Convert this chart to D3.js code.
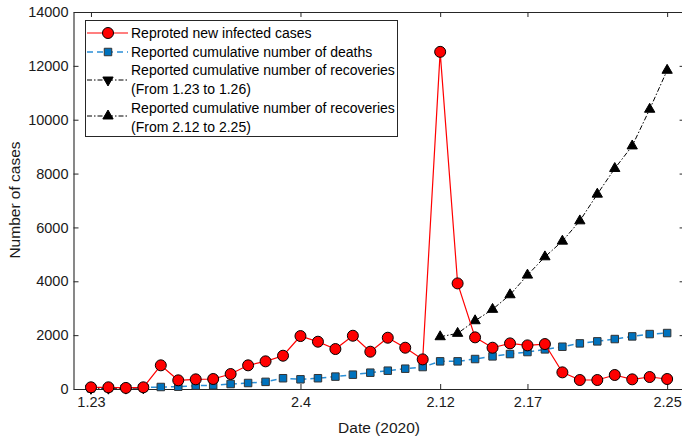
<!DOCTYPE html>
<html>
<head>
<meta charset="utf-8">
<script src="https://cdn.jsdelivr.net/npm/d3@7"></script>
<style>
  body { margin: 0; background: #fff; }
  svg { font-family: "Liberation Sans", Arial, Helvetica, sans-serif; }
</style>
</head>
<body>
<script>
const dates = ['1.23', '1.24', '1.25', '1.26', '1.27', '1.28', '1.29', '1.30', '1.31',
  '2.1', '2.2', '2.3', '2.4', '2.5', '2.6', '2.7', '2.8', '2.9', '2.10', '2.11', '2.12',
  '2.13', '2.14', '2.15', '2.16', '2.17', '2.18', '2.19', '2.20', '2.21', '2.22', '2.23',
  '2.24', '2.25'];

const tickDates = ['1.23', '2.4', '2.12', '2.17', '2.25'];
const yTicks = [0, 2000, 4000, 6000, 8000, 10000, 12000, 14000];

const newCases = [63, 63, 40, 63, 879, 322, 359, 371, 556, 879, 1027, 1236, 1966, 1756,
  1484, 1978, 1385, 1904, 1533, 1100, 12520, 3921, 1918, 1533, 1694, 1620, 1669, 618,
  334, 334, 520, 359, 445, 371];

const deaths = [24, 39, 40, 52, 74, 86, 124, 136, 185, 222, 265, 400, 360, 400, 460, 532,
  606, 680, 754, 816, 1027, 1027, 1113, 1212, 1298, 1373, 1472, 1570, 1694, 1769, 1855,
  1953, 2040, 2078];

const recoveriesEarlyDates = ['1.23', '1.24', '1.25', '1.26'];
const recoveriesEarly = [25, 30, 31, 40];

const recoveriesLateDates = ['2.12', '2.13', '2.14', '2.15', '2.16', '2.17', '2.18',
  '2.19', '2.20', '2.21', '2.22', '2.23', '2.24', '2.25'];
const recoveriesLate = [1940, 2066, 2534, 2957, 3499, 4229, 4908, 5490, 6244, 7235,
  8188, 9026, 10388, 11835];

const legendLabels = [
  ['Reproted new infected cases'],
  ['Reported cumulative number of deaths'],
  ['Reported cumulative number of recoveries', '(From 1.23 to 1.26)'],
  ['Reported cumulative number of recoveries', '(From 2.12 to 2.25)']
];

const width = 682;
const height = 440;
const axisColor = '#262626';
const blueFill = '#0072bd';
const blueLine = '#2b8fd6';

const svg = d3.select('body').append('svg')
  .attr('width', width)
  .attr('height', height);

const x = d3.scaleLinear().domain([-1, 34]).range([73.5, 684.6]);
const y = d3.scaleLinear().domain([0, 14000]).range([389, 12]);
const dayOf = d => dates.indexOf(d);

// axes box
const plot = svg.append('g');

const xAxis = d3.axisBottom(x)
  .tickValues(tickDates.map(dayOf))
  .tickFormat(d => dates[d])
  .tickSizeInner(-5).tickSizeOuter(0).tickPadding(8);
const xTop = d3.axisTop(x)
  .tickValues(tickDates.map(dayOf))
  .tickFormat('')
  .tickSizeInner(-5).tickSizeOuter(0);
const yAxis = d3.axisLeft(y)
  .tickValues(yTicks)
  .tickFormat(d3.format('d'))
  .tickSizeInner(-5).tickSizeOuter(0).tickPadding(5);
const yRight = d3.axisRight(y)
  .tickValues(yTicks)
  .tickFormat('')
  .tickSizeInner(-5).tickSizeOuter(0);

plot.append('g').attr('transform', `translate(0,${y(0)})`).call(xAxis);
plot.append('g').attr('transform', `translate(0,${y(14000)})`).call(xTop);
plot.append('g').attr('transform', `translate(${x(-1)},0)`).call(yAxis);
plot.append('g').attr('transform', `translate(${x(34)},0)`).call(yRight);

plot.selectAll('.domain').attr('stroke', axisColor).attr('stroke-width', 1.1);
plot.selectAll('.tick line').attr('stroke', axisColor);
plot.selectAll('.tick text').attr('fill', '#1a1a1a').attr('font-size', 14.5);

// axis labels
svg.append('text')
  .attr('x', 379).attr('y', 433)
  .attr('text-anchor', 'middle')
  .attr('font-size', 15.5).attr('fill', '#1a1a1a')
  .text('Date (2020)');

svg.append('text')
  .attr('transform', 'translate(20,200) rotate(-90)')
  .attr('text-anchor', 'middle')
  .attr('font-size', 15.5).attr('fill', '#1a1a1a')
  .text('Number of cases');

// series
const line = d3.line().x(d => x(d.day)).y(d => y(d.value));

const series = [
  {
    data: dates.map((d, i) => ({ day: i, value: deaths[i] })),
    stroke: blueLine, dash: '6,4', width: 1.5, symbol: d3.symbolSquare, size: 56,
    fill: blueFill, mstroke: '#333'
  },
  {
    data: recoveriesEarlyDates.map((d, i) => ({ day: dayOf(d), value: recoveriesEarly[i] })),
    stroke: '#000', dash: '5,2,1.5,2', width: 1, symbol: d3.symbolTriangle, size: 46,
    fill: '#000', mstroke: '#000', rotate: 180
  },
  {
    data: recoveriesLateDates.map((d, i) => ({ day: dayOf(d), value: recoveriesLate[i] })),
    stroke: '#000', dash: '5,2,1.5,2', width: 1, symbol: d3.symbolTriangle, size: 46,
    fill: '#000', mstroke: '#000', rotate: 0
  },
  {
    data: dates.map((d, i) => ({ day: i, value: newCases[i] })),
    stroke: '#ff0000', dash: null, width: 1.2, symbol: d3.symbolCircle, size: 95,
    fill: '#ff0000', mstroke: '#000'
  }
];

series.forEach(s => {
  const g = svg.append('g');
  g.append('path')
    .datum(s.data)
    .attr('fill', 'none')
    .attr('stroke', s.stroke)
    .attr('stroke-width', s.width)
    .attr('stroke-dasharray', s.dash)
    .attr('d', line);
  g.selectAll('path.marker')
    .data(s.data)
    .enter()
    .append('path')
    .attr('class', 'marker')
    .attr('d', d3.symbol().type(s.symbol).size(s.size))
    .attr('transform', d => `translate(${x(d.day)},${y(d.value)}) rotate(${s.rotate || 0})`)
    .attr('fill', s.fill)
    .attr('stroke', s.mstroke)
    .attr('stroke-width', 1);
});

// legend
const legend = svg.append('g');
legend.append('rect')
  .attr('x', 85.5).attr('y', 20.5)
  .attr('width', 312).attr('height', 116)
  .attr('fill', '#fff')
  .attr('stroke', axisColor)
  .attr('stroke-width', 1);

const legendRows = [
  { s: series[3], y: 33, lines: [33] },
  { s: series[0], y: 52, lines: [52] },
  { s: series[1], y: 80, lines: [70, 89] },
  { s: series[2], y: 116, lines: [108, 127] }
];

legendRows.forEach((r, i) => {
  legend.append('line')
    .attr('x1', 87).attr('x2', 128)
    .attr('y1', r.y).attr('y2', r.y)
    .attr('stroke', r.s.stroke)
    .attr('stroke-width', r.s.width)
    .attr('stroke-dasharray', r.s.dash);
  legend.append('path')
    .attr('d', d3.symbol().type(r.s.symbol).size(r.s.size))
    .attr('transform', `translate(108,${r.y}) rotate(${r.s.rotate || 0})`)
    .attr('fill', r.s.fill)
    .attr('stroke', r.s.mstroke)
    .attr('stroke-width', 1);
  legendLabels[i].forEach((t, j) => {
    legend.append('text')
      .attr('x', 131).attr('y', r.lines[j])
      .attr('dy', '0.35em')
      .attr('font-size', 14).attr('fill', '#000')
      .text(t);
  });
});
</script>
</body>
</html>
